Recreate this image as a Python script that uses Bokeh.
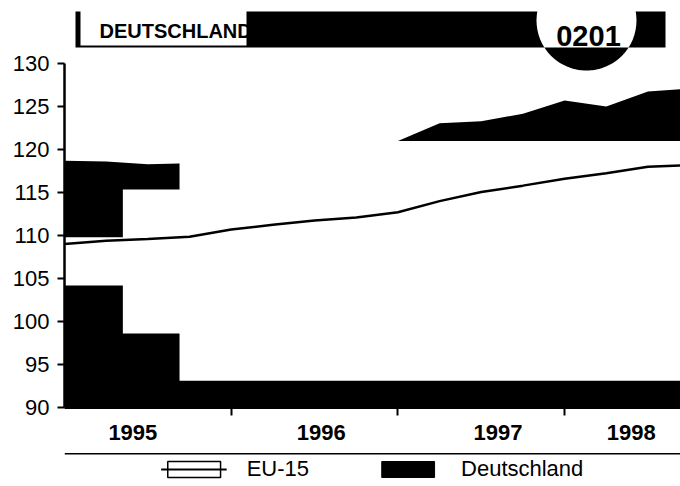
import numpy as np
from bokeh.plotting import figure
from bokeh.layouts import column
from bokeh.models import Range1d, FixedTicker, Legend, LegendItem, Span
from bokeh.embed import file_html
from bokeh.resources import INLINE
from bokeh.core.properties import value

# ---------------- data ----------------
quarters = [1995.00, 1995.25, 1995.50, 1995.75, 1996.00, 1996.25, 1996.50, 1996.75,
            1997.00, 1997.25, 1997.50, 1997.75, 1998.00, 1998.25, 1998.50, 1998.75]
eu15 = [109.0, 109.4, 109.6, 109.85, 110.7, 111.25, 111.75, 112.1,
        112.7, 114.0, 115.05, 115.8, 116.6, 117.25, 118.0, 118.2]
deutschland = [118.7, 118.6, 118.3, 118.4, 119.3, 119.9, 120.3, 120.6,
               121.0, 123.05, 123.3, 124.15, 125.7, 125.0, 126.75, 127.1]

# parts of the black Deutschland area that the copy lost (white), as seen in the picture
fade_x = [1995.00, 1995.35, 1995.35, 1995.69, 1995.69, 1997.00, 1998.75]
fade_lo = [104.2, 104.2, 98.6, 98.6, 93.1, 93.1, 93.1]
fade_hi = [109.8, 109.8, 115.35, 115.35, 121.0, 121.0, 121.0]

y_ticks = [90, 95, 100, 105, 110, 115, 120, 125, 130]
year_bounds = [1996, 1997, 1998]
year_label_pos = [1995.41, 1996.54, 1997.60, 1998.40]
year_labels = ["1995", "1996", "1997", "1998"]

title_text = "DEUTSCHLAND"
code_text = "0201"
series_names = ["EU-15", "Deutschland"]

FONT = "Liberation Sans"
NAN = float("nan")

# ---------------- main figure ----------------
p = figure(frame_width=616, frame_height=407,
           x_range=Range1d(1995.0, 1998.695), y_range=Range1d(90, 137.33),
           output_backend="svg", toolbar_location=None, title=None,
           min_border_left=64, min_border_right=0, min_border_top=0, min_border_bottom=45)
p.outline_line_color = None
p.background_fill_color = "white"
p.border_fill_color = "white"
p.xgrid.visible = False
p.ygrid.visible = False

# pixel ranges for the heading decorations (page pixels)
p.extra_x_ranges = {"px": Range1d(64, 680)}
p.extra_y_ranges = {"px": Range1d(407, 0)}

# Deutschland area
de_r = p.varea(x=quarters, y1=y_ticks[0], y2=deutschland, fill_color="black")
# lost (faded) parts of the black area
p.varea(x=fade_x, y1=fade_lo, y2=fade_hi, fill_color="white")
# EU-15 line
eu_r = p.line(quarters, eu15, line_color="black", line_width=2.5)

# ---------------- heading ----------------
p.quad(left=[75], right=[665], top=[11], bottom=[47], x_range_name="px", y_range_name="px",
       fill_color="black", line_color=None)
p.quad(left=[80], right=[246], top=[0], bottom=[45], x_range_name="px", y_range_name="px",
       fill_color="white", line_color=None)
p.text(x=[99], y=[30], text=[title_text], x_range_name="px", y_range_name="px",
       text_font=value(FONT), text_font_style="bold", text_font_size="20px",
       text_color="black", text_align="left", text_baseline="alphabetic")
# badge circle: white inside the bar, black below it
cx, cy, r = 586, 20, 50
p.scatter(x=[cx], y=[cy], size=2 * r, marker="circle", fill_color="white", line_color=None,
          x_range_name="px", y_range_name="px")
t0 = np.arcsin((47 - cy) / r)
th = np.linspace(t0, np.pi - t0, 60)
p.patch(x=cx + r * np.cos(th), y=cy + r * np.sin(th), fill_color="black", line_color=None,
        x_range_name="px", y_range_name="px")
p.text(x=[588], y=[35.5], text=[code_text], x_range_name="px", y_range_name="px",
       text_font=value(FONT), text_font_style="bold", text_font_size="29px",
       text_color="black", text_align="center", text_baseline="alphabetic")

# ---------------- axes ----------------
ya = p.yaxis[0]
ya.ticker = FixedTicker(ticks=y_ticks)
ya.bounds = (y_ticks[0], y_ticks[-1])
ya.axis_line_width = 2.5
ya.axis_line_color = "black"
ya.major_tick_out = 7
ya.major_tick_in = 0
ya.major_tick_line_width = 2
ya.major_tick_line_color = "black"
ya.minor_tick_out = 0
ya.minor_tick_in = 0
ya.major_label_standoff = 8
ya.major_label_text_font = FONT
ya.major_label_text_font_size = "22px"
ya.major_label_text_color = "black"

xa = p.xaxis[0]
xa.ticker = FixedTicker(ticks=year_label_pos, minor_ticks=year_bounds)
xa.major_label_overrides = {pos: lab for pos, lab in zip(year_label_pos, year_labels)}
xa.axis_line_width = 3
xa.axis_line_color = "black"
xa.major_tick_out = 0
xa.major_tick_in = 0
xa.minor_tick_out = 8
xa.minor_tick_in = 0
xa.minor_tick_line_width = 2
xa.minor_tick_line_color = "black"
xa.major_label_standoff = 9
xa.major_label_text_font = FONT
xa.major_label_text_font_style = "bold"
xa.major_label_text_font_size = "22px"
xa.major_label_text_color = "black"

# ---------------- legend strip ----------------
q = figure(frame_width=616, frame_height=34, x_range=Range1d(0, 1), y_range=Range1d(0, 1),
           output_backend="svg", toolbar_location=None, title=None,
           min_border_left=64, min_border_right=0, min_border_top=0, min_border_bottom=0)
q.outline_line_color = None
q.axis.visible = False
q.grid.visible = False
q.border_fill_color = "white"
q.add_layout(Span(location=0.96, dimension="width", line_color="black", line_width=1.5))

# legend-only renderers (no visible data)
eu_box = q.quad(left=[NAN], right=[NAN], top=[NAN], bottom=[NAN], fill_color="white",
                line_color="black", line_width=1.5)
eu_ln = q.line(x=[NAN], y=[NAN], line_color="black", line_width=2)
de_box = q.quad(left=[NAN], right=[NAN], top=[NAN], bottom=[NAN], fill_color="black",
                line_color="black")

legend = Legend(items=[LegendItem(label=series_names[0], renderers=[eu_box, eu_ln]),
                       LegendItem(label=series_names[1], renderers=[de_box])],
                orientation="horizontal", location="center",
                glyph_width=66, glyph_height=20, label_standoff=20, spacing=66,
                padding=0, margin=0,
                label_text_font=FONT, label_text_font_size="22px", label_text_color="black",
                border_line_color=None, background_fill_alpha=0)
q.add_layout(legend, "center")

layout = column(p, q, spacing=0)
open("out.html", "w").write(file_html(layout, INLINE))
